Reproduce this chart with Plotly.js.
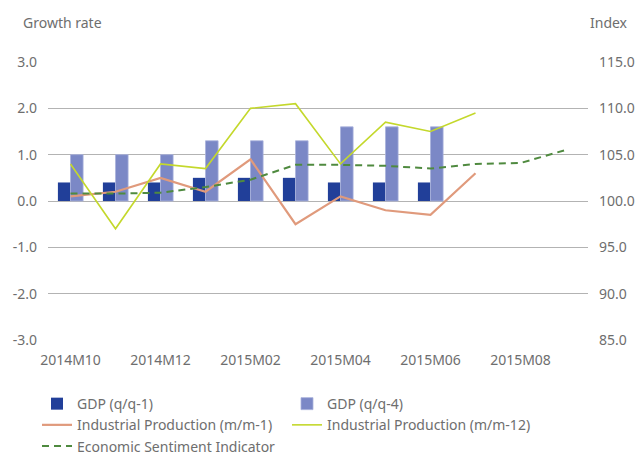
<!DOCTYPE html>
<html>
<head>
<meta charset="utf-8">
<script src="https://cdn.plot.ly/plotly-3.0.1.min.js"></script>
<style>html,body{margin:0;padding:0;background:#fff;}#chart{width:638px;height:456px;}</style>
</head>
<body>
<div id="chart"></div>
<script>
const months = ['2014M10','2014M11','2014M12','2015M01','2015M02','2015M03','2015M04','2015M05','2015M06','2015M07','2015M08','2015M09'];
const gdpQ1 = [0.4,0.4,0.4,0.5,0.5,0.5,0.4,0.4,0.4,null,null,null];
const gdpQ4 = [1.0,1.0,1.0,1.3,1.3,1.3,1.6,1.6,1.6,null,null,null];
const ipM1 = [0.1,0.2,0.5,0.2,0.9,-0.5,0.1,-0.2,-0.3,0.6,null,null];
const ipM12 = [0.8,-0.6,0.8,0.7,2.0,2.1,0.8,1.7,1.5,1.9,null,null];
const esi = [100.8,100.8,100.9,101.5,102.3,103.9,103.9,103.8,103.5,104.0,104.1,105.5];
const leftTicks = [-3,-2,-1,0,1,2,3];
const rightTicks = [85,90,95,100,105,110,115];
const xTickLabels = ['2014M10','2014M12','2015M02','2015M04','2015M06','2015M08'];

const txt = '#6e6e6e';
const fontFam = 'Noto Sans, sans-serif';

const traces = [
  {type:'bar', name:'GDP (q/q-1)', x:months, y:gdpQ1, marker:{color:'#213f99'}, hoverinfo:'skip'},
  {type:'bar', name:'GDP (q/q-4)', x:months, y:gdpQ4, marker:{color:'#7b88c6', line:{color:'#a9b2dc', width:0.8}}, hoverinfo:'skip'},
  {type:'scatter', mode:'lines', name:'Industrial Production (m/m-1)', x:months, y:ipM1, line:{color:'#e09a7c', width:2.2}, connectgaps:false},
  {type:'scatter', mode:'lines', name:'Industrial Production (m/m-12)', x:months, y:ipM12, line:{color:'#c4d82c', width:1.6}},
  {type:'scatter', mode:'lines', name:'Economic Sentiment Indicator', x:months, y:esi, yaxis:'y2', line:{color:'#4f8a3f', width:2, dash:'7px,5px'}}
];

const layout = {
  width:638, height:456,
  margin:{l:48, r:50, t:62, b:116},
  paper_bgcolor:'#fff', plot_bgcolor:'#fff',
  font:{family:fontFam, size:14, color:txt},
  barmode:'group', bargap:0.44, bargroupgap:0,
  showlegend:true,
  legend:{orientation:'h', xref:'container', yref:'container', x:0.058, xanchor:'left', y:0.149, yanchor:'top',
          entrywidth:205, entrywidthmode:'pixels', font:{size:14, color:txt}, traceorder:'normal',
          tracegroupgap:0},
  xaxis:{type:'category', categoryorder:'array', categoryarray:months, range:[-0.5,11.5],
         tickmode:'array', tickvals:xTickLabels, ticktext:xTickLabels, ticks:'', showgrid:false, showline:false,
         zeroline:false, ticklabelstandoff:10, tickfont:{size:14, color:txt}},
  xaxis2:{overlaying:'x', anchor:'free', position:0.5, range:[-0.5,11.5], tickmode:'linear', tick0:-0.5, dtick:1,
          ticks:'outside', ticklen:6, tickwidth:1.5, tickcolor:'#858585', showticklabels:false, showgrid:false,
          showline:true, linecolor:'#858585', linewidth:2, zeroline:false},
  yaxis:{range:[-3,3], tickmode:'array', tickvals:leftTicks, ticktext:leftTicks.map(v=>v.toFixed(1)),
         showgrid:true, gridcolor:'#b3b3b3', gridwidth:1, zeroline:false, ticks:'', ticklabelstandoff:10,
         tickfont:{size:14, color:txt}},
  yaxis2:{overlaying:'y', side:'right', range:[85,115], tickmode:'array', tickvals:rightTicks,
          ticktext:rightTicks.map(v=>v.toFixed(1)), showgrid:false, zeroline:false, ticks:'', ticklabelstandoff:10,
          tickfont:{size:14, color:txt}},
  annotations:[
    {text:'Growth rate', xref:'paper', yref:'paper', x:-0.05, y:1.0, yshift:40, xanchor:'left', yanchor:'middle', showarrow:false, font:{size:14, color:txt}},
    {text:'Index', xref:'paper', yref:'paper', x:1.0, y:1.0, yshift:40, xanchor:'left', yanchor:'middle', showarrow:false, font:{size:14, color:txt}}
  ]
};

Plotly.newPlot('chart', traces, layout, {displayModeBar:false, staticPlot:true});
</script>
</body>
</html>
